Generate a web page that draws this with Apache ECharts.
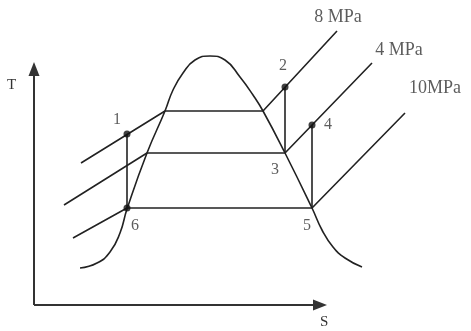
<!DOCTYPE html>
<html><head><meta charset="utf-8">
<script src="https://cdn.jsdelivr.net/npm/echarts@6/dist/echarts.min.js"></script>
<style>html,body{margin:0;padding:0;background:#fff}#c{width:471px;height:331px}</style>
</head><body><div id="c"></div>
<script>
// Saturation dome (S, T in arbitrary schematic units)
const domeS = [46,63,76,86,93,113,131,139,149,161,176,191,206,219,229,251,278,288,299,311,328];
const domeT = [37,42,53,72,96,152,194,215,232,245,249,245,228,210,194,152,97,75,58,47,38];
// Isobars: liquid branch [start, end] and vapour branch [start, end]
const liqS = [[47,131],[30,113],[39,93]];
const liqT = [[142,194],[100,152],[67,97]];
const vapS = [[229,303],[251,338],[278,371]];
const vapT = [[194,274],[152,242],[97,192]];
const pressureLabels = ['8 MPa','4 MPa','10MPa'];
// State points
const stateNames = ['1','2','3','4','5','6'];
const stateS = [93,251,251,278,278,93];
const stateT = [171,218,152,180,97,97];
const markedStates = ['1','2','4','6'];
// Processes (vertical segments)
const processes = [['1','6'],['2','3'],['4','5']];
// Axis extents (arrow tips)
const sAxisEnd = 293;
const tAxisEnd = 243;

const FONT = '"Liberation Serif", "DejaVu Serif", serif';
const LINE = {color:'#222', width:1.6};
const stateOffsets = {'1':[-10,-14],'2':[-2,-21],'3':[-10,17],'4':[16,0],'5':[-5,18],'6':[8,18]};
const pressureOffsets = [[1,-14],[27,-13],[30,-25]];

const series = [];
// axes drawn as lines with arrow heads
series.push({type:'line', animation:false, silent:true, lineStyle:{color:'#333', width:2}, itemStyle:{color:'#333'},
  data:[{value:[0,0],symbolSize:0},{value:[sAxisEnd-7,0],symbol:'triangle',symbolSize:[11,14],symbolRotate:-90}]});
series.push({type:'line', animation:false, silent:true, lineStyle:{color:'#333', width:2}, itemStyle:{color:'#333'},
  data:[{value:[0,0],symbolSize:0},{value:[0,tAxisEnd-7],symbol:'triangle',symbolSize:[11,14]}]});
series.push({type:'line', data: domeS.map((s,i)=>[s,domeT[i]]), smooth:0.5, showSymbol:false,
  lineStyle:LINE, silent:true, animation:false});
for (let i=0;i<3;i++){
  series.push({type:'line', showSymbol:false, lineStyle:LINE, animation:false,
    data:[[liqS[i][0],liqT[i][0]],[liqS[i][1],liqT[i][1]],[vapS[i][0],vapT[i][0]],[vapS[i][1],vapT[i][1]]]});
}
const idx = n => stateNames.indexOf(n);
processes.forEach(p=>{
  series.push({type:'line', showSymbol:false, lineStyle:LINE, animation:false,
    data:p.map(n=>[stateS[idx(n)], stateT[idx(n)]])});
});
series.push({type:'scatter', animation:false, z:5,
  data: stateNames.map((n,i)=>({value:[stateS[i],stateT[i]], name:n,
    symbolSize: markedStates.includes(n)?7:0,
    label:{show:true, position:'inside', offset:stateOffsets[n], formatter:n,
      color:'#333', fontFamily:FONT, fontSize:16}})),
  itemStyle:{color:'#111'}});
series.push({type:'scatter', animation:false, symbolSize:0,
  data: pressureLabels.map((t,i)=>({value:[vapS[i][1],vapT[i][1]],
    label:{show:true, position:'inside', offset:pressureOffsets[i], formatter:t,
      color:'#333', fontFamily:FONT, fontSize:18}}))});

const hidden = {type:'value', axisTick:{show:false}, axisLabel:{show:false}, splitLine:{show:false}, axisLine:{show:false}};

const chart = echarts.init(document.getElementById('c'));
chart.setOption({
  animation:false,
  grid:{left:34, top:0, right:0, bottom:26},
  xAxis:Object.assign({min:0, max:437}, hidden),
  yAxis:Object.assign({min:0, max:305}, hidden),
  graphic:[
    {type:'text', left:7, top:78, style:{text:'T', font:'15px '+FONT, fill:'#333'}},
    {type:'text', left:320, top:315, style:{text:'S', font:'15px '+FONT, fill:'#333'}}
  ],
  series
});
</script></body></html>
